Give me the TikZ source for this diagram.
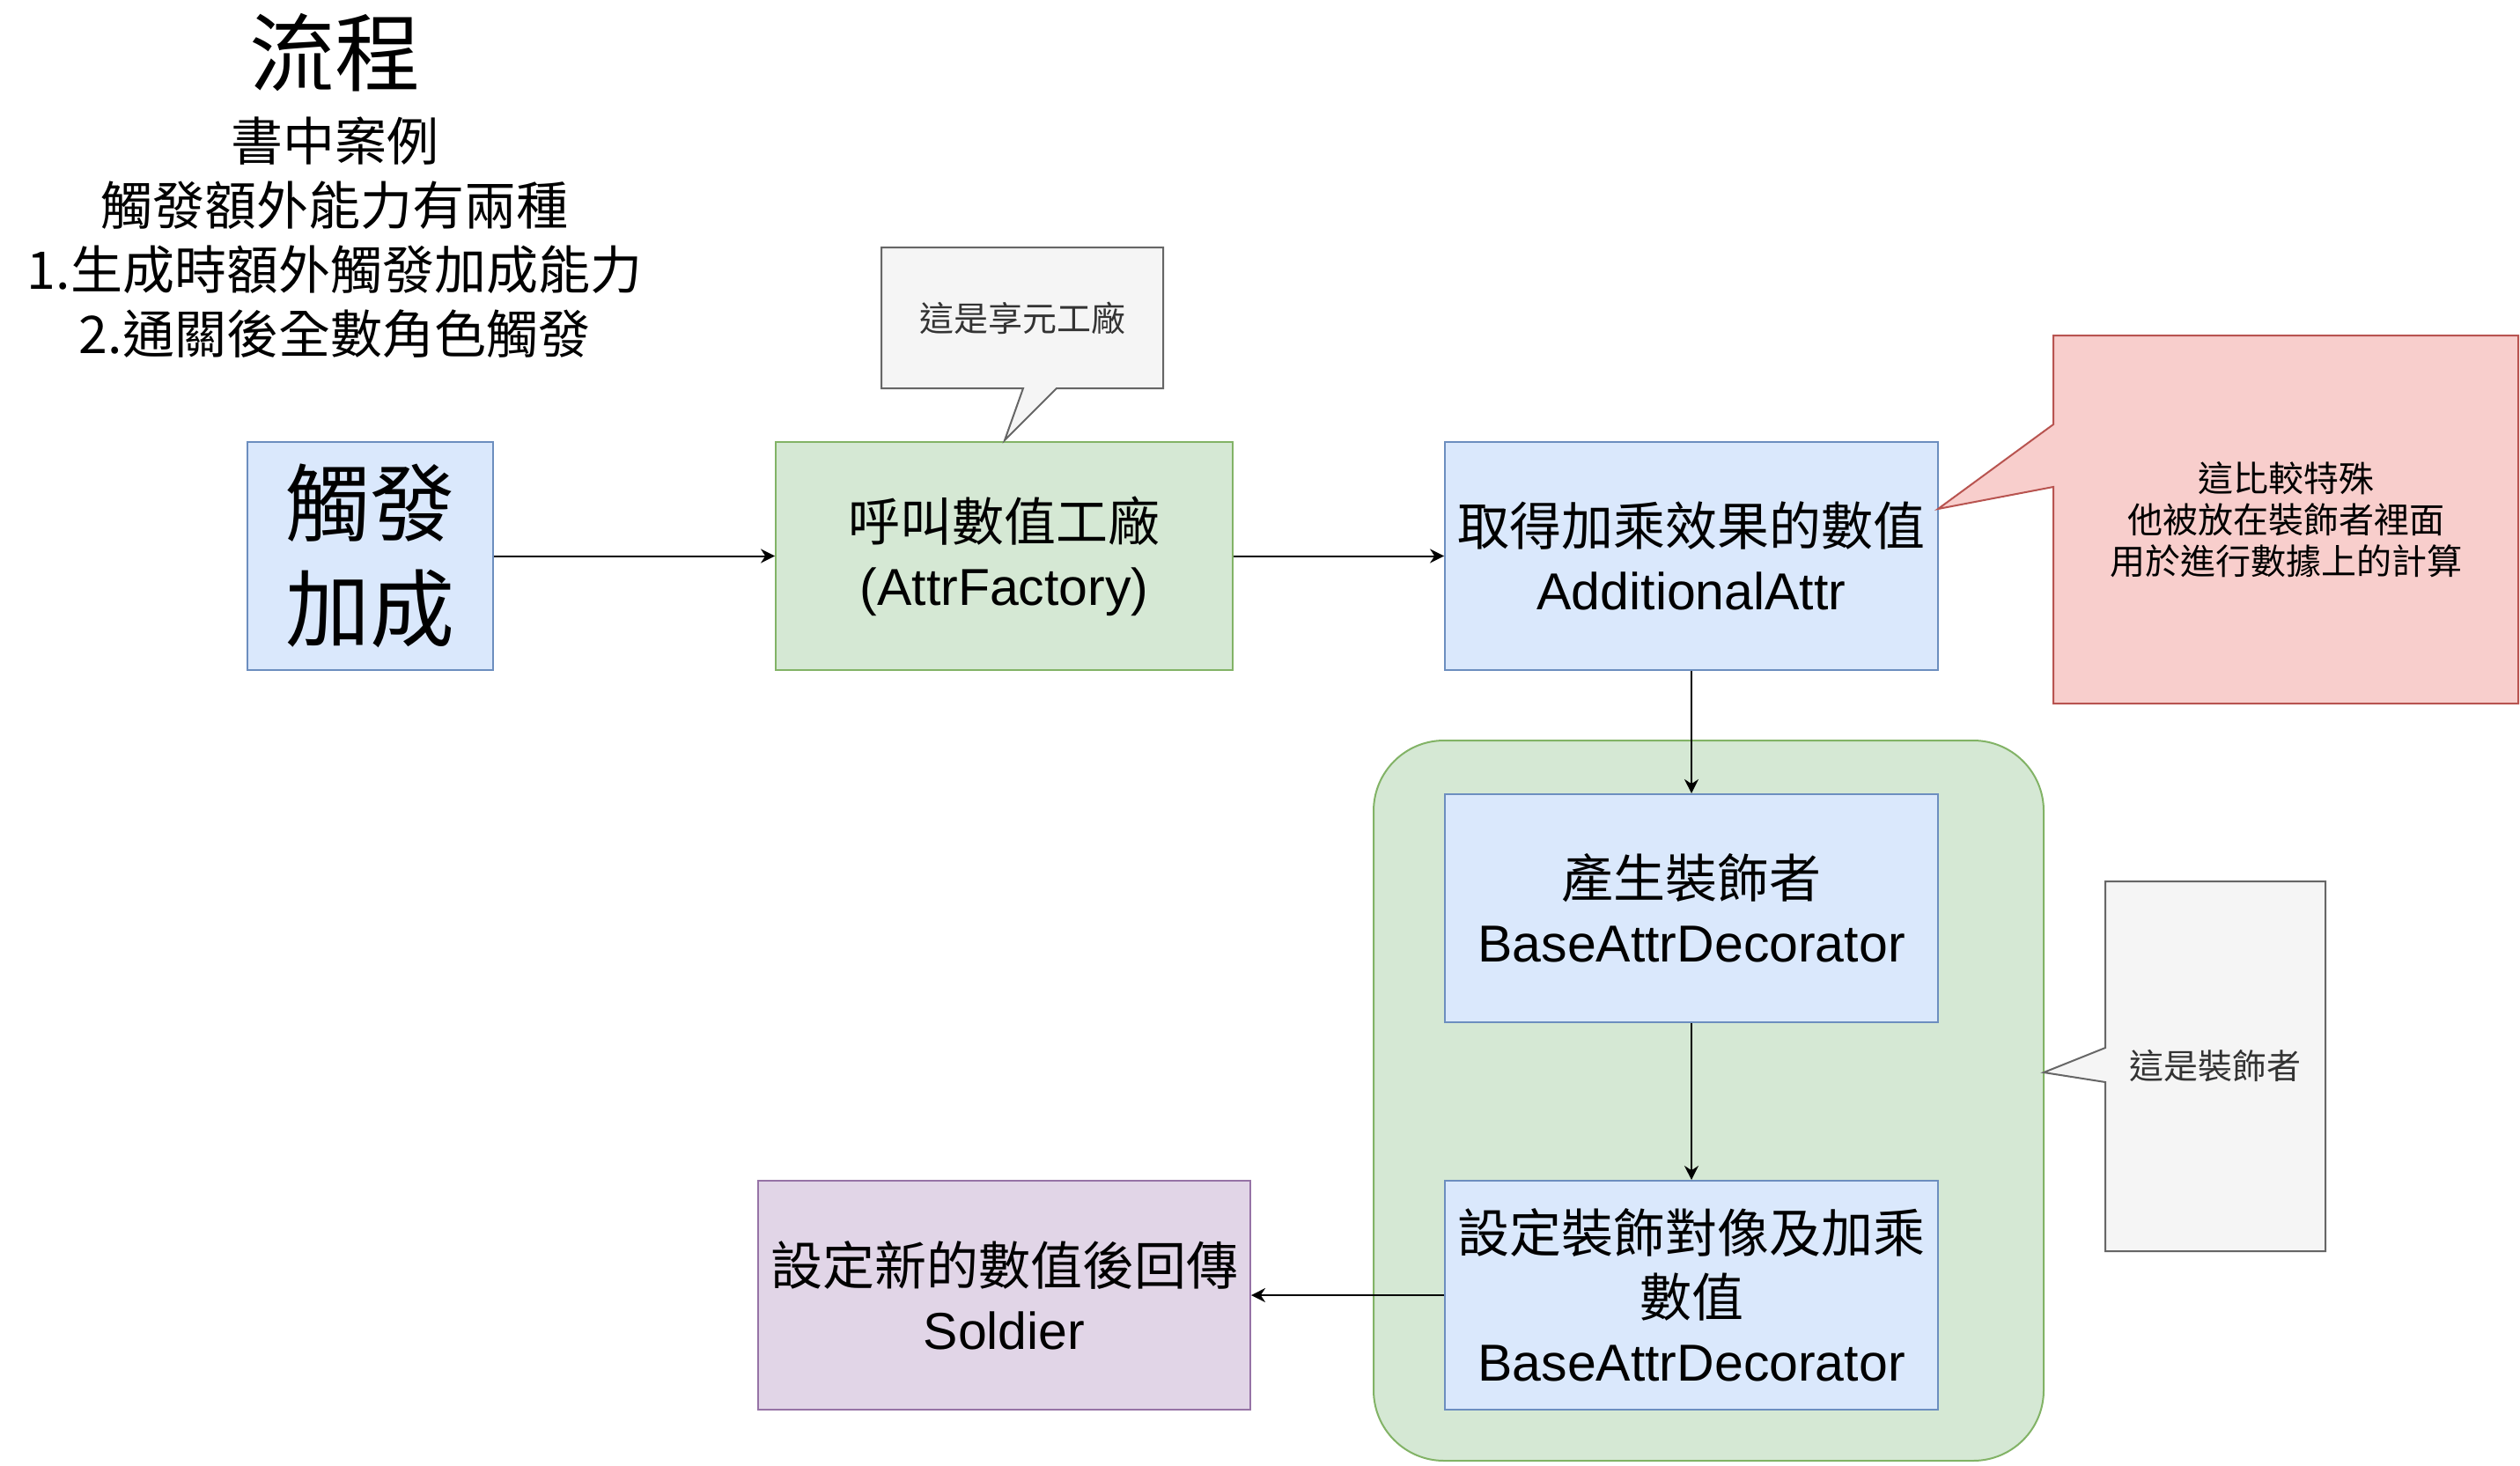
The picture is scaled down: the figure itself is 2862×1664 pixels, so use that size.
\documentclass[tikz,border=0pt]{standalone}
\usepackage{fontspec}
\setmainfont{Liberation Sans}
\newfontfamily\cjk{Noto Sans CJK TC}
\usepackage{tikz}
\usetikzlibrary{arrows.meta,positioning}
\definecolor{fillBlue}{HTML}{DAE8FC}
\definecolor{lineBlue}{HTML}{6C8EBF}
\definecolor{fillGreen}{HTML}{D5E8D4}
\definecolor{lineGreen}{HTML}{82B366}
\definecolor{fillPurple}{HTML}{E1D5E7}
\definecolor{linePurple}{HTML}{9673A6}
\definecolor{fillRed}{HTML}{F8CECC}
\definecolor{lineRed}{HTML}{B85450}
\definecolor{fillGray}{HTML}{F5F5F5}
\definecolor{lineGray}{HTML}{666666}
\definecolor{noteText}{HTML}{333333}

\begin{document}
\begin{tikzpicture}[x=0.5pt, y=-0.5pt,
  every node/.style={align=center, inner sep=0pt},
  box/.style={draw, line width=1pt, minimum width=280pt, minimum height=129.5pt,
    font=\fontsize{29.5}{36.5}\selectfont},
  flow/.style={-{Stealth[length=8pt,width=8pt]}, line width=1pt},
  note/.style={line width=1pt, fill=fillGray, draw=lineGray}]
  \useasboundingbox (0,0) rectangle (2862,1664);

  % title block
  \node[font=\fontsize{48.5}{58}\selectfont] (title) at (380,60) {\cjk 流程};
  \node[font=\fontsize{29.5}{36.5}\selectfont] (cases) at (380,270)
    {\cjk 書中案例\\ \cjk 觸發額外能力有兩種\\ \cjk 1.生成時額外觸發加成能力\\ \cjk 2.通關後全數角色觸發};

  % decorator group
  \draw[fill=fillGreen, draw=lineGreen, line width=1pt, rounded corners=40pt]
    (1560,841) rectangle (2321,1659);

  % flow boxes
  \node[box, fill=fillBlue, draw=lineBlue, minimum width=139.5pt,
    font=\fontsize{48}{60}\selectfont] (trig) at (420.5,631.5) {\cjk 觸發\\ \cjk 加成};
  \node[box, fill=fillGreen, draw=lineGreen, minimum width=259.5pt] (call) at (1140.5,631.5)
    {{\cjk 呼叫數值工廠}\\(AttrFactory)};
  \node[box, fill=fillBlue, draw=lineBlue] (addattr) at (1921,631.5)
    {{\cjk 取得加乘效果的數值}\\AdditionalAttr};
  \node[box, fill=fillBlue, draw=lineBlue] (gen) at (1921,1031.5)
    {{\cjk 產生裝飾者}\\BaseAttrDecorator};
  \node[box, fill=fillBlue, draw=lineBlue, minimum height=130pt] (setdec) at (1921,1471)
    {{\cjk 設定裝飾對像及加乘}\\{\cjk 數值}\\BaseAttrDecorator};
  \node[box, fill=fillPurple, draw=linePurple, minimum width=279.5pt, minimum height=130pt]
    (ret) at (1140.5,1471) {{\cjk 設定新的數值後回傳}\\Soldier};

  \draw[flow] (trig) -- (call);
  \draw[flow] (call) -- (addattr);
  \draw[flow] (addattr) -- (gen);
  \draw[flow] (gen) -- (setdec);
  \draw[flow] (setdec) -- (ret);

  % callouts
  \draw[note] (1001,281) -- (1321,281) -- (1321,441) -- (1200,441) -- (1141,500)
    -- (1162,441) -- (1001,441) -- cycle;
  \node[font=\fontsize{19.5}{24}\selectfont, text=noteText] (flyNote) at (1161,361) {\cjk 這是享元工廠};

  \draw[line width=1pt, fill=fillRed, draw=lineRed] (2332,381) -- (2860,381) -- (2860,799)
    -- (2332,799) -- (2332,553) -- (2201,578) -- (2332,482) -- cycle;
  \node[font=\fontsize{20}{23.5}\selectfont] (specialNote) at (2596,590)
    {\cjk 這比較特殊\\ \cjk 他被放在裝飾者裡面\\ \cjk 用於進行數據上的計算};

  \draw[note] (2391,1001) -- (2641,1001) -- (2641,1421) -- (2391,1421) -- (2391,1229)
    -- (2321,1218) -- (2391,1190) -- cycle;
  \node[font=\fontsize{19.5}{24}\selectfont, text=noteText] (decNote) at (2516,1211) {\cjk 這是裝飾者};
\end{tikzpicture}
\end{document}
